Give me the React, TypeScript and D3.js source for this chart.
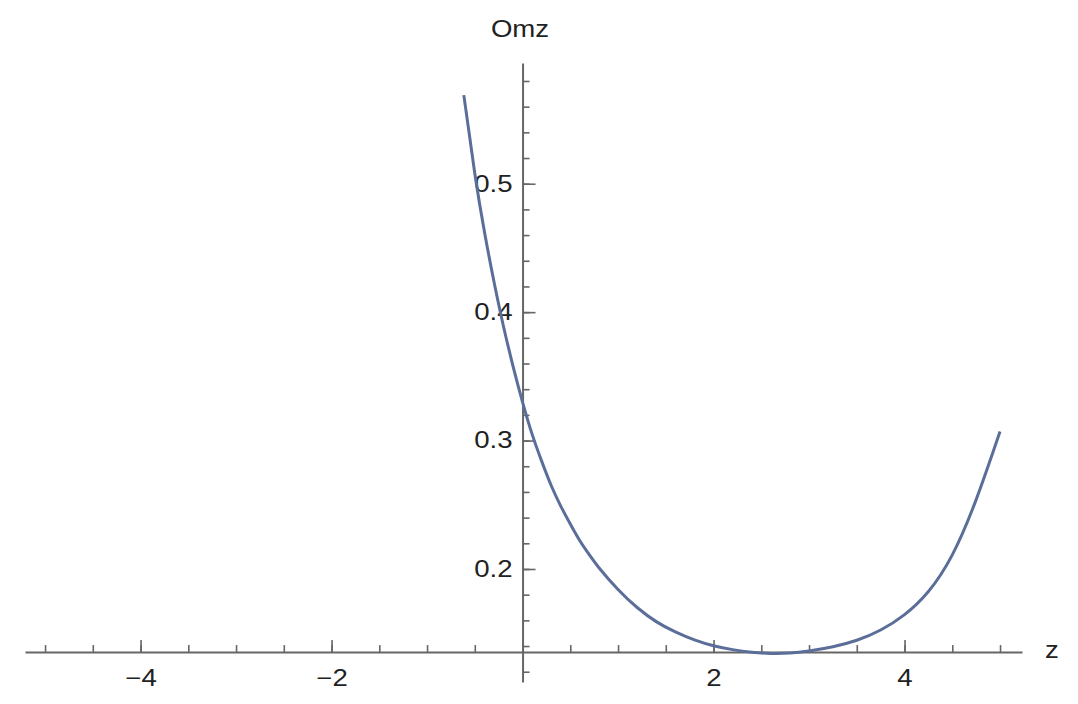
import React, { useEffect, useRef } from "react";
import * as d3 from "d3";

// values
const zValues = [-0.615, -0.5, -0.4, -0.3, -0.2, -0.1, 0, 0.1, 0.2, 0.3, 0.4, 0.5, 0.6, 0.7, 0.8, 1.0, 1.2, 1.4, 1.6, 1.8, 2.0, 2.2, 2.4, 2.6, 2.8, 3.0, 3.25, 3.5, 3.75, 4.0, 4.25, 4.5, 4.75, 5.0];
const omzValues = [0.569, 0.508, 0.463, 0.424, 0.389, 0.358, 0.33, 0.305, 0.284, 0.265, 0.249, 0.235, 0.222, 0.211, 0.201, 0.184, 0.17, 0.159, 0.151, 0.1448, 0.1402, 0.1372, 0.1352, 0.1342, 0.1345, 0.1362, 0.1395, 0.1445, 0.1525, 0.1645, 0.1825, 0.211, 0.254, 0.307];

const xMajorTicks = [-4, -2, 2, 4];
const xMinorTicks = d3.range(-5, 5.01, 0.5);
const yMajorTicks = [0.2, 0.3, 0.4, 0.5];
const yMinorTicks = d3.range(0.12, 0.5901, 0.02);

const xLabel = "z";
const yLabel = "Omz";

const width = 1078;
const height = 704;
const axisColor = "#666";
const textColor = "#222";
const lineColor = "#5b6e9a";
const fontFamily = "'Liberation Sans', Arial, sans-serif";
const stretch = "scale(1.2,1)";

const App = () => {
  const svgRef = useRef<SVGSVGElement | null>(null);

  useEffect(() => {
    const svg = d3.select(svgRef.current);
    svg.selectAll("*").remove();

    const xScale = d3.scaleLinear().domain([-5.21, 5.23]).range([25, 1022]);
    const yScale = d3.scaleLinear().domain([0.112, 0.594]).range([682, 63]);

    const axisY = yScale(0.1353);
    const axisX = xScale(0);

    // x axis minor + major
    const xMinor = svg.append("g").attr("transform", `translate(0,${axisY})`)
      .call(d3.axisBottom(xScale).tickValues(xMinorTicks).tickSize(-7).tickSizeOuter(0).tickFormat(() => ""));
    const xMajor = svg.append("g").attr("transform", `translate(0,${axisY})`)
      .call(d3.axisBottom(xScale).tickValues(xMajorTicks).tickSize(-12).tickSizeOuter(0).tickPadding(18)
        .tickFormat((d: any) => d3.format("")(d).replace("-", "\u2212")));

    // y axis minor + major
    const yMinor = svg.append("g").attr("transform", `translate(${axisX},0)`)
      .call(d3.axisLeft(yScale).tickValues(yMinorTicks).tickSize(-7).tickSizeOuter(0).tickFormat(() => ""));
    const yMajor = svg.append("g").attr("transform", `translate(${axisX},0)`)
      .call(d3.axisLeft(yScale).tickValues(yMajorTicks).tickSize(-13).tickSizeOuter(0).tickPadding(8.3)
        .tickFormat(d3.format(".1f")));

    [xMinor, xMajor, yMinor, yMajor].forEach(g => {
      g.selectAll("path.domain").attr("stroke", axisColor).attr("stroke-width", 2);
      g.selectAll(".tick line").attr("stroke", axisColor).attr("stroke-width", 1.6);
      g.selectAll(".tick text")
        .attr("fill", textColor)
        .attr("font-family", fontFamily)
        .attr("font-size", 23)
        .attr("transform", stretch);
    });
    yMinor.select("path.domain").remove();
    xMinor.select("path.domain").remove();

    // curve
    const line = d3.line<number>()
      .x((d, i) => xScale(zValues[i]))
      .y(d => yScale(d))
      .curve(d3.curveNatural);

    svg.append("path")
      .datum(omzValues)
      .attr("d", line)
      .attr("fill", "none")
      .attr("stroke", lineColor)
      .attr("stroke-width", 3);

    // axis labels
    svg.append("text")
      .attr("transform", `translate(520,37) ${stretch}`)
      .attr("text-anchor", "middle")
      .attr("fill", textColor)
      .attr("font-family", fontFamily)
      .attr("font-size", 23)
      .text(yLabel);

    svg.append("text")
      .attr("transform", `translate(1045,658) ${stretch}`)
      .attr("fill", textColor)
      .attr("font-family", fontFamily)
      .attr("font-size", 23)
      .text(xLabel);
  }, []);

  return (
    <svg
      ref={svgRef}
      width={width}
      height={height}
      style={{ position: "absolute", left: 0, top: 0, background: "#fff" }}
    ></svg>
  );
};

export default App;
